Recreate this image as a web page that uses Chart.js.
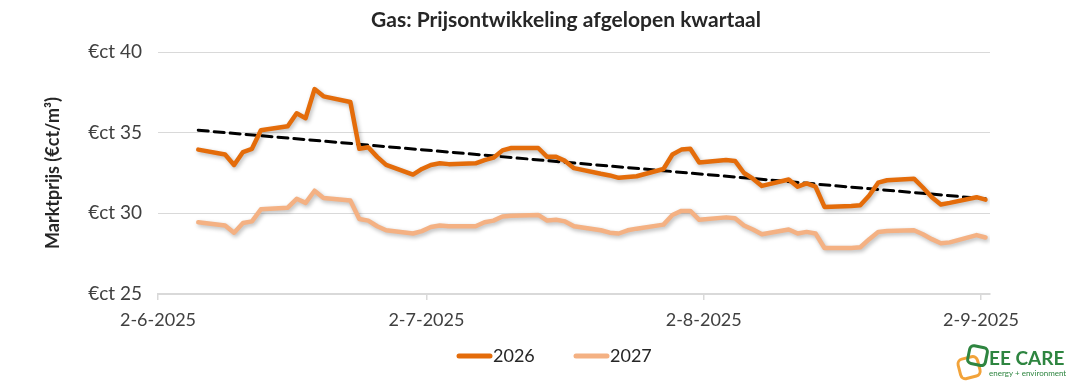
<!DOCTYPE html>
<html>
<head>
<meta charset="utf-8">
<script src="https://cdn.jsdelivr.net/npm/chart.js@4.4.1/dist/chart.umd.min.js"></script>
<style>
  body { margin: 0; background: #fff; }
  #wrap { width: 1073px; height: 385px; position: relative; }
</style>
</head>
<body>
<div id="wrap"><canvas id="chart"></canvas></div>
<script>
// dates (d-m-yyyy), trading days only
const dates = [
  '6-6-2025', '9-6-2025', '10-6-2025', '11-6-2025', '12-6-2025', '13-6-2025',
  '16-6-2025', '17-6-2025', '18-6-2025', '19-6-2025', '20-6-2025',
  '23-6-2025', '24-6-2025', '25-6-2025', '26-6-2025', '27-6-2025',
  '30-6-2025', '1-7-2025', '2-7-2025', '3-7-2025', '4-7-2025',
  '7-7-2025', '8-7-2025', '9-7-2025', '10-7-2025', '11-7-2025',
  '14-7-2025', '15-7-2025', '16-7-2025', '17-7-2025', '18-7-2025',
  '21-7-2025', '22-7-2025', '23-7-2025', '24-7-2025', '25-7-2025',
  '28-7-2025', '29-7-2025', '30-7-2025', '31-7-2025', '1-8-2025',
  '4-8-2025', '5-8-2025', '6-8-2025', '7-8-2025', '8-8-2025',
  '11-8-2025', '12-8-2025', '13-8-2025', '14-8-2025', '15-8-2025',
  '18-8-2025', '19-8-2025', '20-8-2025', '21-8-2025', '22-8-2025',
  '25-8-2025', '26-8-2025', '27-8-2025', '28-8-2025', '29-8-2025',
  '1-9-2025', '2-9-2025'
];
const prices2026 = [
  33.95, 33.65, 33.0, 33.8, 34.0, 35.15,
  35.4, 36.2, 35.9, 37.7, 37.25,
  36.9, 34.0, 34.1, 33.5, 33.0,
  32.4, 32.75, 33.0, 33.1, 33.05,
  33.1, 33.3, 33.45, 33.9, 34.05,
  34.05, 33.5, 33.5, 33.25, 32.8,
  32.45, 32.35, 32.2, 32.25, 32.3,
  32.75, 33.65, 33.95, 34.0, 33.15,
  33.3, 33.25, 32.5, 32.15, 31.7,
  32.1, 31.65, 31.85, 31.65, 30.4,
  30.45, 30.5, 31.1, 31.9, 32.05,
  32.15, 31.6, 31.0, 30.55, 30.65,
  31.0, 30.85
];
const prices2027 = [
  29.45, 29.25, 28.8, 29.4, 29.5, 30.25,
  30.35, 30.9, 30.65, 31.4, 30.95,
  30.8, 29.65, 29.55, 29.2, 28.95,
  28.75, 28.9, 29.15, 29.25, 29.2,
  29.2, 29.45, 29.55, 29.8, 29.85,
  29.9, 29.55, 29.6, 29.5, 29.2,
  28.95, 28.8, 28.75, 28.95, 29.05,
  29.3, 29.9, 30.15, 30.15, 29.6,
  29.75, 29.7, 29.25, 29.0, 28.7,
  29.0, 28.75, 28.85, 28.75, 27.85,
  27.85, 27.9, 28.4, 28.85, 28.9,
  28.95, 28.7, 28.4, 28.15, 28.2,
  28.65, 28.5
];
// linear trendline of 2026, start and end
const trendDates = ['6-6-2025', '2-9-2025'];
const trend2026 = [35.15, 30.9];

const xTickDates = ['2-6-2025', '2-7-2025', '2-8-2025', '2-9-2025'];
const yTicks = [25, 30, 35, 40];

const FONT = 'Lato, "Open Sans", sans-serif';
const C2026 = '#E46C0A';
const C2027 = '#F4B183';

function dayOf(s) {
  const [d, m, y] = s.split('-').map(Number);
  return (Date.UTC(y, m - 1, d) - Date.UTC(2025, 5, 2)) / 864e5;
}
// excel date axis puts the point in the middle of its day
const pts = (ds, vals) => ds.map((s, i) => ({ x: dayOf(s) + 0.5, y: vals[i] }));

const shadowPlugin = {
  id: 'shadow',
  beforeDatasetDraw(chart, args) {
    if (args.index > 1) return;
    const ctx = chart.ctx;
    ctx.save();
    ctx.shadowColor = 'rgba(0,0,0,0.28)';
    ctx.shadowBlur = 4;
    ctx.shadowOffsetX = 1.5;
    ctx.shadowOffsetY = 2;
  },
  afterDatasetDraw(chart, args) {
    if (args.index > 1) return;
    chart.ctx.restore();
  }
};

const extrasPlugin = {
  id: 'extras',
  afterDraw(chart) {
    const ctx = chart.ctx;
    ctx.save();
    // title
    ctx.fillStyle = '#262626';
    ctx.font = 'bold 21px ' + FONT;
    ctx.textAlign = 'center';
    ctx.textBaseline = 'middle';
    ctx.fillText('Gas: Prijsontwikkeling afgelopen kwartaal', 566, 20);

    // legend
    const items = [
      { label: '2026', color: C2026, x: 459 },
      { label: '2027', color: C2027, x: 576 }
    ];
    ctx.font = '18px ' + FONT;
    ctx.textAlign = 'left';
    items.forEach(it => {
      ctx.strokeStyle = it.color;
      ctx.lineWidth = 5;
      ctx.lineCap = 'round';
      ctx.beginPath();
      ctx.moveTo(it.x, 356);
      ctx.lineTo(it.x + 31, 356);
      ctx.stroke();
      ctx.fillStyle = '#262626';
      ctx.fillText(it.label, it.x + 34, 356);
    });

    // logo
    ctx.lineWidth = 3;
    ctx.lineCap = 'butt';
    ctx.save();
    ctx.translate(971, 363);
    ctx.rotate(-0.25);
    ctx.strokeStyle = '#F2A33A';
    roundRect(ctx, -13, -6, 20, 20, 5);
    ctx.stroke();
    ctx.restore();
    ctx.save();
    ctx.translate(974, 358);
    ctx.rotate(0.2);
    ctx.strokeStyle = '#2E8540';
    roundRect(ctx, -6, -12, 18, 18, 4);
    ctx.stroke();
    ctx.restore();
    ctx.fillStyle = '#2E8540';
    ctx.font = 'bold 19px ' + FONT;
    ctx.textBaseline = 'alphabetic';
    ctx.fillText('EE CARE', 989, 365);
    ctx.font = '8px ' + FONT;
    ctx.fillText('energy + environment', 989, 376);
    ctx.restore();
  }
};

function roundRect(ctx, x, y, w, h, r) {
  ctx.beginPath();
  ctx.moveTo(x + r, y);
  ctx.arcTo(x + w, y, x + w, y + h, r);
  ctx.arcTo(x + w, y + h, x, y + h, r);
  ctx.arcTo(x, y + h, x, y, r);
  ctx.arcTo(x, y, x + w, y, r);
  ctx.closePath();
}

new Chart(document.getElementById('chart'), {
  type: 'line',
  data: {
    datasets: [
      { label: '2026', data: pts(dates, prices2026), borderColor: C2026, borderWidth: 4.5 },
      { label: '2027', data: pts(dates, prices2027), borderColor: C2027, borderWidth: 4.5 },
      { label: 'Trend 2026', data: pts(trendDates, trend2026), borderColor: '#000', borderWidth: 3, borderDash: [10, 6] }
    ]
  },
  options: {
    responsive: true,
    maintainAspectRatio: false,
    animation: false,
    layout: { padding: { top: 52, right: 83, bottom: 51, left: 0 } },
    elements: {
      point: { radius: 0 },
      line: { tension: 0, borderJoinStyle: 'round', borderCapStyle: 'round', fill: false }
    },
    plugins: {
      legend: { display: false },
      title: { display: false },
      tooltip: { enabled: false }
    },
    scales: {
      x: {
        type: 'linear',
        min: 0,
        max: 93,
        afterFit: s => { s.height = 40; },
        afterBuildTicks: s => { s.ticks = xTickDates.map(d => ({ value: dayOf(d) })); },
        grid: { drawOnChartArea: false, drawTicks: true, tickLength: 6, color: '#D9D9D9', lineWidth: 1.5 },
        border: { display: true, color: '#D9D9D9', width: 2 },
        ticks: {
          autoSkip: false, maxRotation: 0, padding: 9, color: '#404040',
          font: { family: FONT, size: 18 },
          callback: (v, i) => xTickDates[i]
        }
      },
      y: {
        min: 25,
        max: 40,
        afterFit: s => { s.width = 158; },
        afterBuildTicks: s => { s.ticks = yTicks.map(v => ({ value: v })); },
        grid: { drawTicks: false, color: '#D9D9D9', lineWidth: 1 },
        border: { display: false },
        ticks: {
          padding: 16, color: '#404040',
          font: { family: FONT, size: 19 },
          callback: v => '€ct ' + v
        },
        title: {
          display: true,
          text: 'Marktprijs (€ct/m³)',
          color: '#262626',
          font: { family: FONT, size: 18, weight: 'bold' },
          padding: { top: 42, bottom: 0 }
        }
      }
    }
  },
  plugins: [shadowPlugin, extrasPlugin]
});
</script>
</body>
</html>
